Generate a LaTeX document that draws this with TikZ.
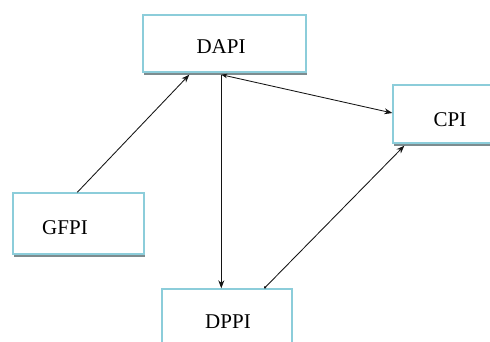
\documentclass[tikz,border=0pt]{standalone}
\usepackage{fontspec}
\setmainfont{Liberation Serif}
\usetikzlibrary{arrows.meta,calc}
\definecolor{boxblue}{RGB}{140,205,218}
\definecolor{shadowgray}{RGB}{125,140,143}
\definecolor{linec}{RGB}{20,20,20}
\tikzset{
  box/.style={rectangle, draw=boxblue, line width=1.4pt, fill=white, inner sep=0pt,
    preaction={fill=shadowgray, transform canvas={xshift=1pt, yshift=-3pt}}},
  boxtext/.style={font=\fontsize{21}{23}\selectfont, text=black},
  arr/.style={draw=linec, line width=0.85pt, -{Stealth[length=8pt,width=6pt]}},
  darr/.style={draw=linec, line width=0.85pt, {Stealth[length=6pt,width=4.5pt]}-{Stealth[length=8pt,width=6pt]}},
  carr/.style={draw=linec, line width=0.85pt, {Circle[length=2.5pt]}-{Stealth[length=8pt,width=6pt]}}
}
\begin{document}
\begin{tikzpicture}[x=1pt,y=-1pt]
\clip (0,0) rectangle (490,342);
\fill[white] (0,0) rectangle (490,342);
\node[box, minimum width=163pt, minimum height=57pt,
  label={[name=dapitext, boxtext, xshift=-3.5pt, yshift=-3.5pt]center:DAPI}] (dapi) at (224.5,43.5) {};
\node[box, minimum width=131pt, minimum height=61pt,
  label={[name=gfpitext, boxtext, xshift=-13.5pt, yshift=-4.5pt]center:GFPI}] (gfpi) at (78.5,223.5) {};
\node[box, minimum width=130pt, minimum height=62pt,
  label={[name=dppitext, boxtext, xshift=1pt, yshift=-2pt]center:DPPI}] (dppi) at (227,320) {};
\node[box, minimum width=114pt, minimum height=58pt,
  label={[name=cpitext, boxtext, xshift=0pt, yshift=-6pt]center:CPI}] (cpi) at (450,114) {};

\draw[arr] ($(gfpi.north west)+(65,0)$) -- ($(dapi.south west)+(47,2)$);
\draw[arr] ($(dapi.south west)+(79,2)$) -- ($(dppi.north west)+(60,0)$);
\draw[darr] ($(dapi.south west)+(79,2)$) -- ($(cpi.west)+(0,-1)$);
\draw[carr] ($(dppi.north west)+(103,0)$) -- ($(cpi.south west)+(12,2)$);
\end{tikzpicture}
\end{document}
